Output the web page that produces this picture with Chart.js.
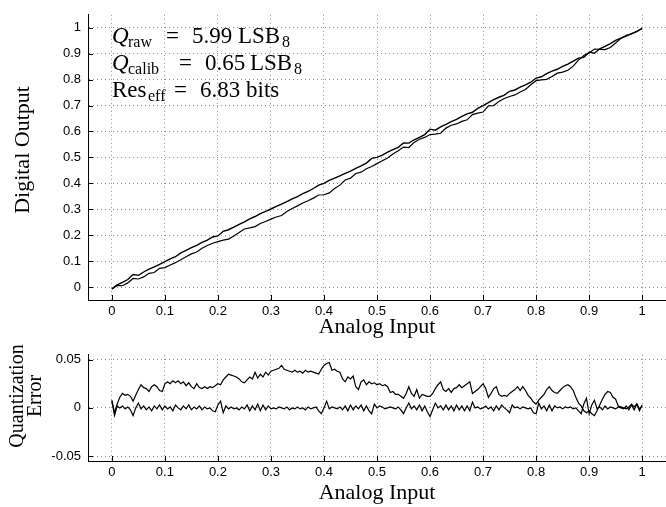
<!DOCTYPE html>
<html><head><meta charset="utf-8">
<script src="https://cdn.jsdelivr.net/npm/chart.js@4/dist/chart.umd.min.js"></script>
<style>
html,body{margin:0;padding:0;background:#fff;}
#wrap{position:relative;width:666px;height:507px;overflow:hidden;background:#fff;}
canvas{position:absolute;left:0;}
</style></head><body>
<div id="wrap">
<canvas id="topChart" width="666" height="340" style="top:0px"></canvas>
<canvas id="botChart" width="666" height="167" style="top:340px"></canvas>
</div>
<script>
// ---------- data ----------
const xTickValues = [0,0.1,0.2,0.3,0.4,0.5,0.6,0.7,0.8,0.9,1];
const xTickLabels = ['0','0.1','0.2','0.3','0.4','0.5','0.6','0.7','0.8','0.9','1'];
const yTickValuesTop = [0,0.1,0.2,0.3,0.4,0.5,0.6,0.7,0.8,0.9,1];
const yTickLabelsTop = ['0','0.1','0.2','0.3','0.4','0.5','0.6','0.7','0.8','0.9','1'];
const yTickValuesBot = [-0.05,0,0.05];
const yTickLabelsBot = ['-0.05','0','0.05'];

// top panel: sampled every 0.01 of analog input
const coarseStep = 0.01;
const calibratedOutput = [-0.007,0.008,0.018,0.029,0.048,0.045,0.058,0.069,0.078,0.087,
 0.098,0.109,0.117,0.132,0.141,0.152,0.161,0.172,0.181,0.193,
 0.197,0.215,0.221,0.231,0.242,0.251,0.263,0.272,0.283,0.292,
 0.301,0.311,0.320,0.329,0.340,0.349,0.360,0.369,0.380,0.393,
 0.400,0.411,0.420,0.429,0.438,0.447,0.458,0.467,0.478,0.496,
 0.500,0.509,0.520,0.530,0.539,0.556,0.555,0.568,0.577,0.588,
 0.609,0.605,0.618,0.627,0.638,0.647,0.658,0.668,0.674,0.689,
 0.700,0.711,0.723,0.732,0.740,0.755,0.760,0.771,0.780,0.790,
 0.806,0.811,0.823,0.833,0.840,0.851,0.860,0.871,0.883,0.886,
 0.906,0.902,0.919,0.928,0.939,0.951,0.960,0.968,0.977,0.986,0.997];
const rawOutput = [-0.008,0.006,0.005,0.016,0.033,0.031,0.039,0.053,0.056,0.072,
 0.075,0.085,0.094,0.105,0.117,0.128,0.135,0.150,0.160,0.169,
 0.175,0.181,0.185,0.197,0.210,0.224,0.228,0.233,0.245,0.253,
 0.262,0.270,0.276,0.291,0.303,0.313,0.324,0.333,0.343,0.355,
 0.356,0.363,0.380,0.393,0.413,0.420,0.438,0.443,0.456,0.465,
 0.476,0.487,0.498,0.513,0.526,0.540,0.538,0.558,0.570,0.577,
 0.588,0.590,0.593,0.613,0.624,0.629,0.639,0.645,0.665,0.671,
 0.675,0.699,0.700,0.716,0.727,0.735,0.741,0.752,0.762,0.780,
 0.796,0.799,0.801,0.812,0.825,0.829,0.836,0.852,0.875,0.893,
 0.903,0.918,0.917,0.916,0.924,0.941,0.959,0.971,0.976,0.986,0.998];

// bottom panel: quantization error in units of 0.001, sampled every 0.005 of analog input
const fineStep = 0.005;
const rawErrorMilli = [8,-5,4,11,15,13,14,12,7,13,
 19,24,21,20,17,22,24,22,18,17,
 25,27,25,28,26,28,25,27,23,26,
 22,20,25,21,20,22,20,22,21,23,
 25,24,29,32,35,34,33,32,30,27,
 26,29,32,30,37,31,35,32,37,34,
 38,39,40,41,44,40,39,38,37,39,
 37,38,36,39,37,38,37,36,35,40,
 44,46,47,39,40,38,37,30,27,32,
 30,33,22,19,27,29,24,27,25,26,
 24,25,23,24,22,16,17,14,14,12,
 10,15,22,15,12,19,10,14,13,12,
 12,15,20,24,27,19,17,20,16,20,
 21,24,21,23,25,27,15,17,19,22,
 25,20,11,15,20,22,14,12,13,12,
 15,17,19,22,18,22,18,13,10,6,
 4,8,11,14,19,22,18,16,15,18,
 21,23,24,22,18,11,5,2,-3,-5,
 -3,-6,-8,-3,3,9,14,17,16,11,
 9,2,1,0,-1,1,4,1,4,-1,2];
const calibratedErrorMilli = [7,-8,2,0,2,-1,1,-2,-8,0,
 5,-1,2,-2,1,-3,2,-1,3,-2,
 2,-1,1,-3,3,0,-2,2,-1,3,
 -2,1,-1,2,-2,1,-1,0,-3,-4,
 3,7,-5,2,-1,1,-1,0,-2,1,
 -1,3,-3,2,-2,4,-3,3,-2,2,
 -1,0,-1,1,0,-1,1,-2,0,-1,
 1,-1,0,-2,1,-1,0,1,-3,-6,
 0,7,-1,1,0,-1,1,-2,2,-3,
 3,-2,2,-1,3,-3,2,-3,-6,4,
 0,2,1,-1,0,1,0,-1,1,-2,
 -6,0,5,-1,2,-2,3,-3,2,-4,
 -9,-2,5,0,2,-2,3,-2,2,-3,
 3,-2,2,-3,2,-3,6,0,1,-1,
 0,2,-1,1,-3,2,-2,3,0,-2,
 -5,3,0,1,-1,1,0,-1,0,-5,
 -6,5,-1,2,-3,3,-3,2,0,1,
 -1,1,0,1,-1,0,-3,-6,4,10,
 -6,3,8,-1,1,-2,2,-1,1,0,
 -1,1,0,-1,2,-2,3,-2,4,-3,3];

// ---------- helpers ----------
const toPoints = (vals, step, scale) => vals.map((v, i) => ({x: +(i * step).toFixed(4), y: v * scale}));
const SANS = '"Liberation Sans", Arial, sans-serif';
const SERIF = '"Liberation Serif", "Times New Roman", serif';

const insideTicks = {
  id: 'insideTicks',
  afterDraw(chart) {
    const {ctx, chartArea: a, scales: {x, y}} = chart;
    ctx.save();
    ctx.strokeStyle = '#000';
    ctx.lineWidth = 1;
    ctx.beginPath();
    x.ticks.forEach(t => {
      const px = Math.round(x.getPixelForValue(t.value)) + 0.5;
      ctx.moveTo(px, a.bottom); ctx.lineTo(px, a.bottom - 5);
    });
    y.ticks.forEach(t => {
      const py = Math.round(y.getPixelForValue(t.value)) + 0.5;
      ctx.moveTo(a.left, py); ctx.lineTo(a.left + 5, py);
    });
    ctx.stroke();
    ctx.restore();
  }
};

function textPlugin(id, drawFn) {
  return {id, afterDraw(chart) { const ctx = chart.ctx; ctx.save(); drawFn(ctx, chart); ctx.restore(); }};
}

function drawSegments(ctx, baseline, segs) {
  ctx.fillStyle = '#000';
  ctx.textBaseline = 'alphabetic';
  ctx.textAlign = 'left';
  segs.forEach(([txt, x, style]) => {
    let dy = 0;
    if (style === 'i') ctx.font = 'italic 23px ' + SERIF;
    else if (style === 's') { ctx.font = '16px ' + SERIF; dy = 4; }
    else ctx.font = '23px ' + SERIF;
    ctx.fillText(txt, x, baseline + dy);
  });
}

function makeOptions(cfg) {
  return {
    responsive: false,
    animation: false,
    events: [],
    layout: {padding: {left: 0, right: 0, top: cfg.padTop, bottom: 0}},
    plugins: {legend: {display: false}, tooltip: {enabled: false}, title: {display: false}},
    elements: {point: {radius: 0}, line: {tension: 0, borderWidth: 1, borderColor: '#000'}},
    scales: {
      x: {
        type: 'linear', min: -0.045, max: 1.045,
        afterBuildTicks: s => { s.ticks = xTickValues.map(v => ({value: v})); },
        afterFit: s => { s.height = cfg.xHeight; },
        grid: {color: '#8c8c8c', lineWidth: 1, drawTicks: false},
        border: {display: true, color: '#000', width: 1, dash: [1, 3]},
        ticks: {padding: 4, color: '#000', font: {family: SANS, size: 13}, maxRotation: 0, autoSkip: false,
                callback: (v, i) => xTickLabels[i]}
      },
      y: {
        type: 'linear', min: cfg.yMin, max: cfg.yMax,
        afterBuildTicks: s => { s.ticks = cfg.yTicks.map(v => ({value: v})); },
        afterFit: s => { s.width = 88; },
        grid: {color: '#8c8c8c', lineWidth: 1, drawTicks: false},
        border: {display: true, color: '#000', width: 1, dash: [1, 3]},
        ticks: {padding: 7, color: '#000', font: {family: SANS, size: 13}, autoSkip: false,
                callback: (v, i) => cfg.yLabels[i]}
      }
    }
  };
}

// ---------- top chart ----------
new Chart(document.getElementById('topChart'), {
  type: 'line',
  data: {datasets: [
    {data: toPoints(calibratedOutput, coarseStep, 1), borderColor: '#000', borderWidth: 1.4, pointRadius: 0},
    {data: toPoints(rawOutput, coarseStep, 1), borderColor: '#000', borderWidth: 1.2, pointRadius: 0}
  ]},
  options: makeOptions({padTop: 0, xHeight: 40, yMin: -0.05, yMax: 1.05, yTicks: yTickValuesTop, yLabels: yTickLabelsTop}),
  plugins: [insideTicks, textPlugin('topText', (ctx, chart) => {
    ctx.fillStyle = '#000';
    ctx.font = '22px ' + SERIF;
    ctx.textAlign = 'center'; ctx.textBaseline = 'alphabetic';
    ctx.fillText('Analog Input', 377, 333);
    ctx.save();
    ctx.translate(29, 150); ctx.rotate(-Math.PI / 2);
    ctx.fillText('Digital Output', 0, 0);
    ctx.restore();
    drawSegments(ctx, 43, [['Q', 112, 'i'], ['raw', 128, 's'], ['=', 166, 'n'], ['5.99', 192, 'n'], ['LSB', 238, 'n'], ['8', 282, 's']]);
    drawSegments(ctx, 70, [['Q', 112, 'i'], ['calib', 128, 's'], ['=', 179, 'n'], ['0.65', 205, 'n'], ['LSB', 250, 'n'], ['8', 294, 's']]);
    drawSegments(ctx, 97, [['Res', 112, 'n'], ['eff', 148, 's'], ['=', 174, 'n'], ['6.83 bits', 200, 'n']]);
  })]
});

// ---------- bottom chart ----------
new Chart(document.getElementById('botChart'), {
  type: 'line',
  data: {datasets: [
    {data: toPoints(rawErrorMilli, fineStep, 0.001), borderColor: '#000', borderWidth: 1.2, pointRadius: 0},
    {data: toPoints(calibratedErrorMilli, fineStep, 0.001), borderColor: '#000', borderWidth: 1.2, pointRadius: 0}
  ]},
  options: makeOptions({padTop: 12, xHeight: 46, yMin: -0.055, yMax: 0.055, yTicks: yTickValuesBot, yLabels: yTickLabelsBot}),
  plugins: [insideTicks, textPlugin('botText', (ctx, chart) => {
    ctx.fillStyle = '#000';
    ctx.font = '22px ' + SERIF;
    ctx.textAlign = 'center'; ctx.textBaseline = 'alphabetic';
    ctx.fillText('Analog Input', 377, 159);
    ctx.save();
    ctx.translate(0, 56); ctx.rotate(-Math.PI / 2);
    ctx.font = '20px ' + SERIF;
    ctx.fillText('Quantization', 0, 23);
    ctx.fillText('Error', 0, 41);
    ctx.restore();
  })]
});
</script>
</body></html>
